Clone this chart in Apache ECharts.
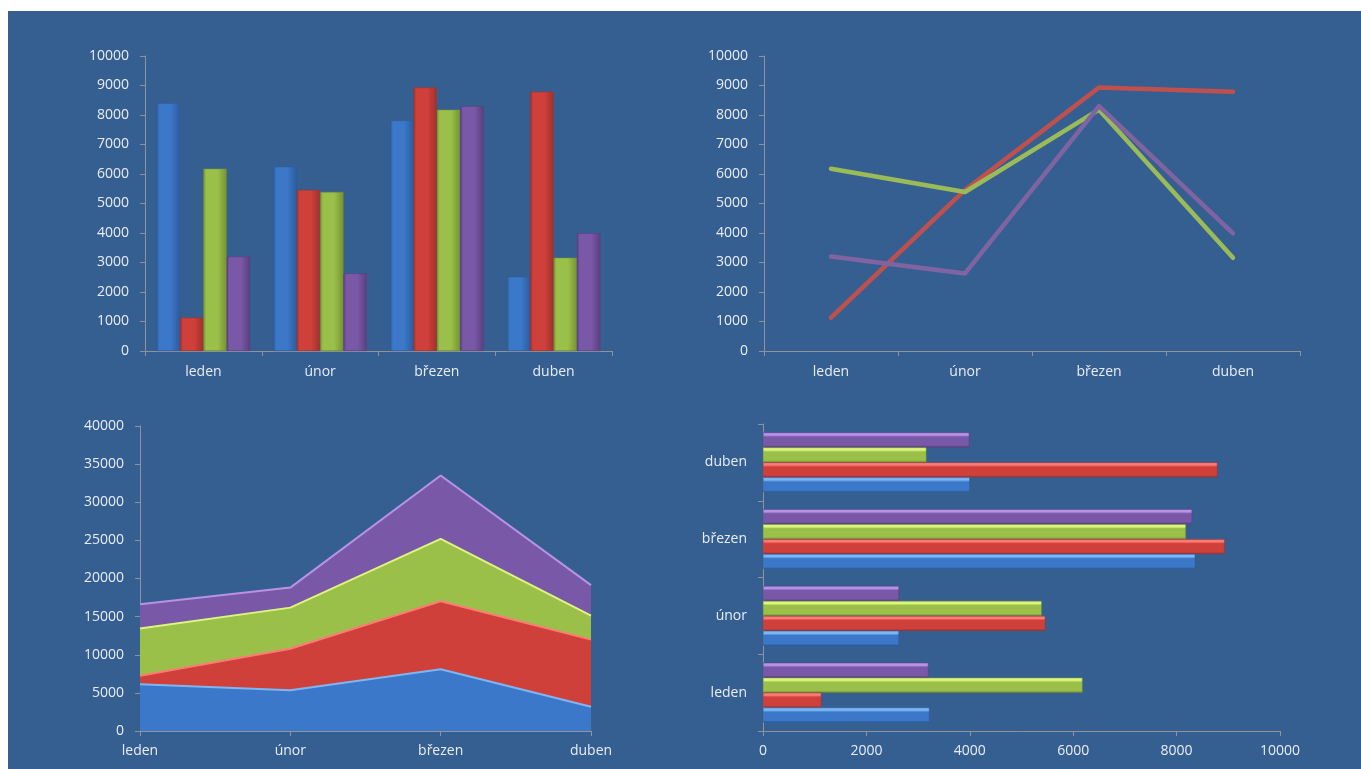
<!DOCTYPE html>
<html>
<head>
<meta charset="utf-8">
<script src="https://cdn.jsdelivr.net/npm/echarts@6/dist/echarts.min.js"></script>
<style>
  html, body { margin: 0; padding: 0; background: #fff; overflow: hidden; }
  #main { position: absolute; left: 8px; top: 11px; width: 1353px; height: 758px; background: #365F91; }
</style>
</head>
<body>
<div id="main"></div>
<script>
const months = ['leden', 'únor', 'březen', 'duben'];

// společné řady (červená, zelená, fialová)
const redValues = [1130, 5460, 8930, 8790];
const greenValues = [6180, 5390, 8180, 3160];
const purpleValues = [3200, 2630, 8300, 3990];

// modrá řada se v každém grafu liší
const blueColumn = [8400, 6250, 7810, 2520];
const blueArea = [6120, 5330, 8090, 3190];
const blueBar = [3220, 2630, 8360, 4000];

const ticks10k = [0, 10000, 1000];
const ticks40k = [0, 40000, 5000];
const ticksBar = [0, 10000, 2000];

const textColor = '#E8EDF5';
const axisColor = '#8E939C';
const font = 'Open Sans';

const palette = {
  blue:   { base: '#3B78C9', light: '#7DB6F2', dark: '#2C5C9E' },
  red:    { base: '#D0403B', light: '#FF7A74', dark: '#A0302C' },
  green:  { base: '#9BC04A', light: '#DDF57C', dark: '#76932F' },
  purple: { base: '#7A58A8', light: '#B792E6', dark: '#5B3F80' }
};
const lineColors = { red: '#C0504D', green: '#9BBB59', purple: '#8064A2' };

function colGradient(c) {
  return new echarts.graphic.LinearGradient(0, 0, 1, 0, [
    { offset: 0, color: c.dark },
    { offset: 0.12, color: c.base },
    { offset: 0.6, color: c.base },
    { offset: 1, color: c.dark }
  ]);
}
function barGradient(c) {
  return new echarts.graphic.LinearGradient(0, 0, 0, 1, [
    { offset: 0, color: c.light },
    { offset: 0.18, color: c.light },
    { offset: 0.3, color: c.base },
    { offset: 0.85, color: c.base },
    { offset: 1, color: c.dark }
  ]);
}

const chart = echarts.init(document.getElementById('main'));

const axisLine = { show: true, lineStyle: { color: axisColor, width: 1 } };
const axisTick = { show: true, length: 5, lineStyle: { color: axisColor } };
const plain = function (v) { return String(v); };

function label(margin) {
  return { margin: margin, color: textColor, fontFamily: font, fontSize: 14, formatter: plain };
}

function valueAxis(gridIndex, t, margin) {
  return {
    type: 'value', gridIndex: gridIndex,
    min: t[0], max: t[1], interval: t[2],
    axisLine: axisLine, axisTick: axisTick,
    splitLine: { show: false },
    axisLabel: label(margin)
  };
}
function catAxis(gridIndex, margin, boundaryGap) {
  return {
    type: 'category', gridIndex: gridIndex, data: months,
    boundaryGap: boundaryGap,
    axisLine: axisLine, axisTick: axisTick,
    axisLabel: label(margin)
  };
}

const series = [];

// 1) sloupcový graf
[['blue', blueColumn], ['red', redValues], ['green', greenValues], ['purple', purpleValues]].forEach(function (s) {
  series.push({
    type: 'bar', xAxisIndex: 0, yAxisIndex: 0, data: s[1],
    barGap: '0%', barCategoryGap: '20%',
    itemStyle: { color: colGradient(palette[s[0]]), borderColor: palette[s[0]].dark, borderWidth: 0.5 },
    emphasis: { disabled: true }
  });
});

// 2) spojnicový graf
[['red', redValues], ['green', greenValues], ['purple', purpleValues]].forEach(function (s) {
  series.push({
    type: 'line', xAxisIndex: 1, yAxisIndex: 1, data: s[1],
    showSymbol: false,
    lineStyle: { color: lineColors[s[0]], width: 4.5, cap: 'round', join: 'round' }
  });
});

// 3) plošný skládaný graf
[['blue', blueArea], ['red', redValues], ['green', greenValues], ['purple', purpleValues]].forEach(function (s) {
  series.push({
    type: 'line', xAxisIndex: 2, yAxisIndex: 2, data: s[1], stack: 'plocha',
    showSymbol: false,
    lineStyle: { color: palette[s[0]].light, width: 2 },
    areaStyle: { color: palette[s[0]].base, opacity: 1 }
  });
});

// 4) pruhový graf (v ECharts je první řada nahoře, proto obráceně)
[['purple', purpleValues], ['green', greenValues], ['red', redValues], ['blue', blueBar]].forEach(function (s) {
  series.push({
    type: 'bar', xAxisIndex: 3, yAxisIndex: 3, data: s[1],
    barGap: '0%', barCategoryGap: '22%',
    itemStyle: { color: barGradient(palette[s[0]]), borderColor: palette[s[0]].dark, borderWidth: 0.5 },
    emphasis: { disabled: true }
  });
});

const option = {
  animation: false,
  grid: [
    { left: 137, top: 45, width: 467, height: 295 },
    { left: 756, top: 45, width: 536, height: 295 },
    { left: 132, top: 415, width: 451, height: 305 },
    { left: 755, top: 413, width: 517, height: 307 }
  ],
  xAxis: [
    catAxis(0, 14, true),
    catAxis(1, 14, true),
    catAxis(2, 13, false),
    valueAxis(3, ticksBar, 13)
  ],
  yAxis: [
    valueAxis(0, ticks10k, 16),
    valueAxis(1, ticks10k, 16),
    valueAxis(2, ticks40k, 16),
    catAxis(3, 16, true)
  ],
  series: series
};

chart.setOption(option);
</script>
</body>
</html>
